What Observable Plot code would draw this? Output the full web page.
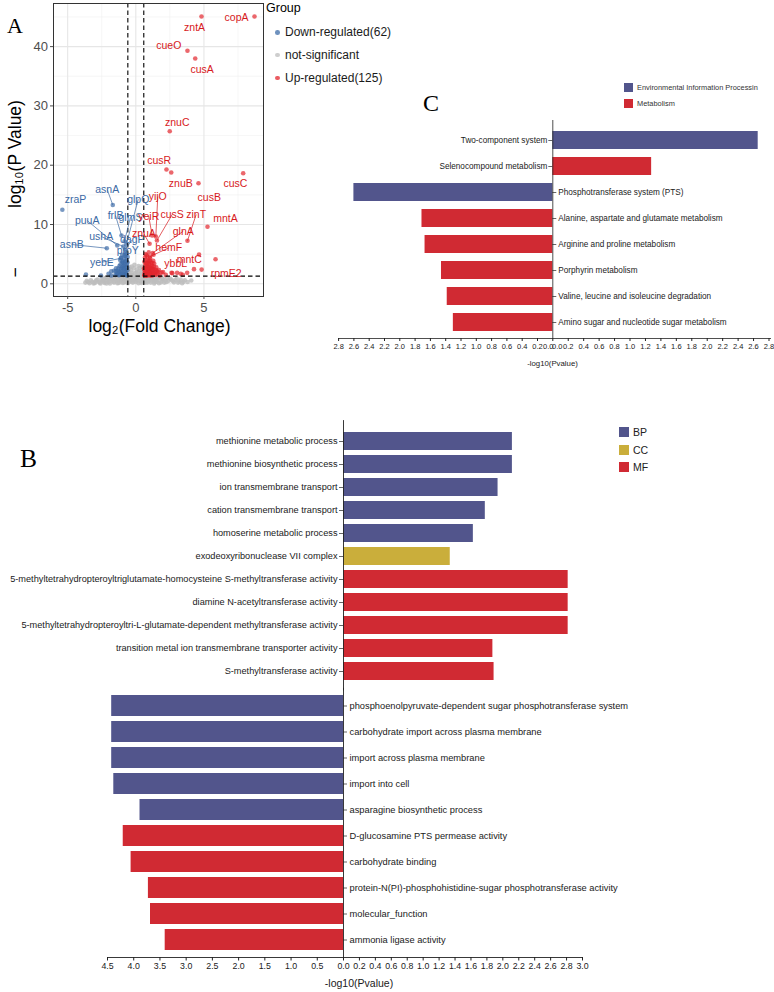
<!DOCTYPE html>
<html><head><meta charset="utf-8">
<script src="https://cdn.jsdelivr.net/npm/d3@7"></script>
<script src="https://cdn.jsdelivr.net/npm/@observablehq/plot@0.6"></script>
<style>
body{margin:0;background:#fff;font-family:"Liberation Sans",Arial,sans-serif;}
#fig{position:relative;width:774px;height:992px;overflow:hidden;background:#fff;}
.abs{position:absolute;line-height:1;white-space:nowrap;}
svg{overflow:visible;}
</style></head><body><div id="fig"></div>
<script>
// ---------------- Panel A : volcano ----------------
const fcCut = 0.585, pCut = 1.301;
const xMajor = [-5, 0, 5], xMinor = [-2.5, 2.5, 7.5];
const yMajor = [0, 10, 20, 30, 40], yMinor = [5, 15, 25, 35, 45];
const groupNames = ["Down-regulated(62)", "not-significant", "Up-regulated(125)"];

const nsPts = [[-3.7,0.2],[-3.6,0.5],[-3.4,0.1],[-3.2,0.35],[-3.0,0.15],[-2.9,0.6],[-2.7,0.3],[-2.6,0.05],[-2.5,0.8],[-2.4,0.4],[-2.3,0.15],[-2.2,1.0],[-2.1,0.6],[-2.0,0.3],[-1.9,0.05],[-1.85,0.9],[-1.8,1.2],[-1.7,0.5],[-1.6,0.2],[-1.55,0.8],[-1.5,1.1],[-1.4,0.4],[-1.35,0.1],[-1.3,0.7],[-1.2,1.0],[-1.15,0.3],[-1.1,0.55],[-1.0,0.9],[-0.95,0.15],[-0.9,1.2],[-0.85,0.4],[-0.8,0.7],[-0.75,1.0],[-0.7,0.25],[-0.65,0.5],[-0.6,1.15],[-0.55,2.1],[-0.5,1.6],[-0.48,0.3],[-0.45,2.8],[-0.4,1.2],[-0.38,0.6],[-0.35,2.3],[-0.3,1.8],[-0.25,0.9],[-0.22,0.2],[-0.2,1.4],[-0.15,2.6],[-0.1,0.5],[-0.05,1.1],[0,0.3],[0.05,1.9],[0.1,0.7],[0.15,1.3],[0.2,0.1],[0.25,2.2],[0.3,0.9],[0.35,1.6],[0.4,0.4],[0.45,2.9],[0.5,1.2],[0.55,2.4],[0.6,0.6],[0.65,1.0],[0.7,0.2],[0.75,0.8],[0.8,1.15],[0.9,0.45],[1.0,0.9],[1.1,0.2],[1.2,1.1],[1.3,0.6],[1.4,0.3],[1.5,1.0],[1.6,0.7],[1.7,0.1],[1.8,1.2],[1.9,0.5],[2.0,0.8],[2.1,0.2],[2.3,1.0],[2.4,0.5],[2.6,0.7],[2.8,0.25],[3.0,0.9],[3.2,0.4],[3.4,0.1],[3.6,0.6],[3.8,0.3],[4.07,0.56],[-0.52,0.9],[-0.28,0.4],[0.12,1.6],[0.42,0.15],[-0.62,0.3],[0.85,0.2],
[-3.5,0.3],[-3.3,0.6],[-3.1,0.05],[-2.95,0.4],[-2.8,0.7],[-2.65,0.2],[-2.45,0.55],[-2.35,0.9],[-2.25,0.35],[-2.15,0.05],[-2.05,1.1],[-1.95,0.45],[-1.75,0.8],[-1.65,0.35],[-1.45,0.65],[-1.25,0.15],[-1.05,0.6],[-0.98,1.2],[-0.88,0.25],[-0.78,0.5],[-0.68,0.85],[-0.58,0.1],[-0.42,0.8],[-0.32,1.5],[-0.18,0.7],[-0.08,1.8],[0.02,0.9],[0.08,2.4],[0.18,0.5],[0.28,1.4],[0.38,2.0],[0.48,0.7],[0.52,1.8],[0.58,0.3],[0.68,0.6],[0.78,0.35],[0.95,0.7],[1.05,1.15],[1.15,0.5],[1.25,0.8],[1.35,0.05],[1.45,0.6],[1.55,0.35],[1.65,1.0],[1.85,0.25],[1.95,0.9],[2.15,0.55],[2.25,0.3],[2.5,0.9],[2.7,0.5],[2.9,0.6],[3.1,0.2],[3.3,0.7],[3.5,0.35],[-0.5,2.3],[-0.3,2.9],[0.3,2.7],[-0.1,3.2],[0.2,3.0]];

const downPts = [[-3.66,1.57],[-2.56,1.4],[-2.0,1.7],[-1.8,1.4],[-1.8,2.1],[-1.6,2.2],[-1.5,1.5],[-1.46,2.14],[-1.4,1.6],[-1.45,2.6],[-1.3,2.2],[-1.25,1.45],[-1.2,3.0],[-1.15,4.0],[-1.1,2.5],[-1.05,1.8],[-1.0,3.6],[-1.0,4.9],[-0.95,2.9],[-0.9,1.5],[-0.88,3.1],[-0.85,4.2],[-0.8,2.2],[-0.78,3.3],[-0.75,4.6],[-0.72,1.7],[-0.7,2.7],[-0.68,3.9],[-0.65,1.4],[-0.62,2.3],[-0.6,4.5],[-0.66,3.2],[-0.9,2.4],[-1.2,2.0],[-0.7,5.0],[-0.95,3.8],
[-1.35,1.8],[-1.28,2.6],[-1.18,1.5],[-1.12,3.3],[-1.08,2.1],[-1.02,2.7],[-0.97,1.7],[-0.92,3.5],[-0.87,2.6],[-0.83,1.6],[-0.76,3.8],[-0.74,2.0],[-0.69,1.5],[-0.64,2.8],[-0.61,3.6],[-0.82,4.8],[-1.08,4.4]];

const upPts = [[0.62,1.5],[0.65,2.3],[0.68,3.1],[0.7,1.8],[0.72,4.0],[0.75,2.7],[0.78,1.4],[0.8,3.5],[0.82,2.1],[0.85,4.6],[0.88,1.7],[0.9,2.9],[0.92,3.8],[0.95,1.5],[0.98,2.4],[1.0,3.2],[1.02,1.9],[1.05,4.3],[1.08,2.7],[1.1,1.4],[1.12,3.6],[1.15,2.2],[1.18,1.6],[1.2,3.0],[1.25,2.5],[1.3,1.8],[1.35,3.4],[1.4,2.0],[1.45,1.5],[1.5,2.8],[1.6,1.7],[1.7,2.3],[1.75,1.4],[1.9,1.9],[0.7,5.0],[0.95,5.3],[1.3,4.9],[2.2,1.5],[0.66,1.9],[0.74,3.4],[0.86,2.5],[0.94,4.0],[1.06,1.6],[1.16,2.8],[1.28,3.9],[1.38,2.4],[1.55,2.1],[0.6,2.6],[0.8,1.6],[1.0,2.1],[2.0,1.97],[2.62,1.85],[2.68,1.8],[3.03,1.85],[3.3,1.7],[3.45,1.52],[3.77,1.85],[5.85,4.15],
[0.63,3.7],[0.67,4.4],[0.71,2.0],[0.76,1.5],[0.79,4.8],[0.83,3.0],[0.87,3.5],[0.91,2.2],[0.93,1.6],[0.97,3.4],[1.01,2.7],[1.04,3.9],[1.09,2.0],[1.13,1.8],[1.19,2.4],[1.22,3.5],[1.27,1.6],[1.32,2.9],[1.42,1.7],[1.48,2.3],[1.65,2.0],[0.64,1.4],[0.69,2.6],[0.73,1.4],[0.84,1.4],[0.89,2.0],[1.03,1.45],[1.23,1.4],[0.77,2.3],[0.99,1.8]];

const upLabGenes = ["copA","zntA","cueO","cusA","znuC","cusR","znuB","cusB","cusC","yijO","cusS","yeiR","zinT","mntA","znuA","glnA","hemF","mntC","ybbL","rpmE2"];
const upLabFC = [8.71,4.82,3.79,4.36,2.49,2.25,2.60,4.60,7.88,1.47,1.55,1.20,3.79,5.26,1.01,1.25,1.05,4.64,4.27,4.83];
const upLabP  = [45.08,45.08,39.29,37.99,25.73,19.27,18.77,16.96,18.65,7.98,7.3,8.15,7.25,9.61,6.75,5.2,4.6,4.94,2.47,2.4];
const upTxtFC = [7.39,4.31,2.42,4.87,3.04,1.72,3.30,5.39,7.31,1.61,2.67,0.95,4.43,6.58,0.59,3.48,2.42,3.92,2.93,6.63];
const upTxtP  = [44.86,43.17,40.19,36.14,27.25,20.79,16.86,14.60,16.86,14.72,11.69,11.35,11.69,10.96,8.43,8.87,6.07,4.05,3.37,1.69];
const upSeg   = [0,0,0,0,0,0,0,0,0,1,1,1,1,0,1,1,1,0,0,0];

const downLabGenes = ["zraP","asnA","glpQ","puuA","frlB","glmS","ushA","asnB","dagP","proY","yebE"];
const downLabFC = [-5.39,-1.69,-0.70,-1.36,-1.05,-0.83,-0.92,-2.13,-0.78,-0.73,-1.10];
const downLabP  = [12.5,13.3,6.6,6.46,8.15,7.18,6.29,6.0,5.8,5.33,4.3];
const downTxtFC = [-4.42,-2.10,0.18,-3.57,-1.49,-0.39,-2.54,-4.70,-0.26,-0.59,-2.49];
const downTxtP  = [14.17,15.90,14.27,10.67,11.52,11.23,7.98,6.63,7.42,5.62,3.64];
const downSeg   = [0,1,1,1,1,1,1,1,1,1,1];

// ---------------- Panel C : KEGG ----------------
const keggTerms = ["Two-component system","Selenocompound metabolism","Phosphotransferase system (PTS)","Alanine, aspartate and glutamate metabolism","Arginine and proline metabolism","Porphyrin metabolism","Valine, leucine and isoleucine degradation","Amino sugar and nucleotide sugar metabolism"];
const keggClass = ["Environmental Information Processin","Metabolism","Environmental Information Processin","Metabolism","Metabolism","Metabolism","Metabolism","Metabolism"];
const keggVal = [2.66,1.28,2.60,1.71,1.67,1.455,1.38,1.30];
const keggSide = [1,1,-1,-1,-1,-1,-1,-1];
const keggClasses = ["Environmental Information Processin","Metabolism"];
const keggLeftTicks = [-2.8,-2.6,-2.4,-2.2,-2.0,-1.8,-1.6,-1.4,-1.2,-1.0,-0.8,-0.6,-0.4,-0.2];
const keggRightTicks = [0.2,0.4,0.6,0.8,1.0,1.2,1.4,1.6,1.8,2.0,2.2,2.4,2.6,2.8];

// ---------------- Panel B : GO ----------------
const goUpTerms = ["methionine metabolic process","methionine biosynthetic process","ion transmembrane transport","cation transmembrane transport","homoserine metabolic process","exodeoxyribonuclease VII complex","5-methyltetrahydropteroyltriglutamate-homocysteine S-methyltransferase activity","diamine N-acetyltransferase activity","5-methyltetrahydropteroyltri-L-glutamate-dependent methyltransferase activity","transition metal ion transmembrane transporter activity","S-methyltransferase activity"];
const goUpClass = ["BP","BP","BP","BP","BP","CC","MF","MF","MF","MF","MF"];
const goUpVal = [2.12,2.12,1.94,1.78,1.63,1.34,2.82,2.82,2.82,1.875,1.89];
const goDownTerms = ["phosphoenolpyruvate-dependent sugar phosphotransferase system","carbohydrate import across plasma membrane","import across plasma membrane","import into cell","asparagine biosynthetic process","D-glucosamine PTS permease activity","carbohydrate binding","protein-N(PI)-phosphohistidine-sugar phosphotransferase activity","molecular_function","ammonia ligase activity"];
const goDownClass = ["BP","BP","BP","BP","BP","MF","MF","MF","MF","MF"];
const goDownVal = [4.42,4.42,4.42,4.38,3.88,4.20,4.05,3.72,3.68,3.40];
const goClasses = ["BP","CC","MF"];
const goLeftTicks = [-4.5,-4.0,-3.5,-3.0,-2.5,-2.0,-1.5,-1.0,-0.5];
const goRightTicks = [0,0.2,0.4,0.6,0.8,1.0,1.2,1.4,1.6,1.8,2.0,2.2,2.4,2.6,2.8,3.0];

// ---------------- styling ----------------
const SANS = "'Liberation Sans', Arial, sans-serif";
const SERIF = "'Liberation Serif','Times New Roman',serif";
const ptRed = "#E3262D", ptBlue = "#3E6CA8", ptGrey = "#BDBDBD";
const txtRed = "#D7191C", txtBlue = "#3B69A4";
const barBlue = "#52558C", barRed = "#D02A33", barGold = "#CAAE3B";
const ink = "#1a1a1a";
const fmtAbs = d => Math.abs(d).toFixed(1);

const fig = document.getElementById("fig");
function place(el, left, top) {
  const w = document.createElement("div");
  w.className = "abs"; w.style.left = left + "px"; w.style.top = top + "px";
  w.appendChild(el); fig.appendChild(w); return w;
}
function html(str, left, top, css) {
  const d = document.createElement("div");
  d.className = "abs"; d.style.left = left + "px"; d.style.top = top + "px";
  d.style.cssText += css || ""; d.textContent = str; fig.appendChild(d); return d;
}

// ---------- Panel A ----------
const toObj = arr => arr.map(([x, y]) => ({x, y}));
const upLab = upLabGenes.map((g, i) => ({gene: g, x: upLabFC[i], y: upLabP[i], tx: upTxtFC[i], ty: upTxtP[i], seg: upSeg[i]}));
const downLab = downLabGenes.map((g, i) => ({gene: g, x: downLabFC[i], y: downLabP[i], tx: downTxtFC[i], ty: downTxtP[i], seg: downSeg[i]}));

const plotA = Plot.plot({
  width: 265, height: 340,
  marginLeft: 53, marginRight: 2, marginTop: 3, marginBottom: 44,
  style: {fontFamily: SANS, background: "none", overflow: "visible"},
  x: {domain: [-6.04, 9.37]},
  y: {domain: [-2.14, 47.27]},
  marks: [
    Plot.ruleX(xMinor, {stroke: "#f0f0f0", strokeWidth: 0.6}),
    Plot.ruleY(yMinor, {stroke: "#f0f0f0", strokeWidth: 0.6}),
    Plot.ruleX(xMajor, {stroke: "#e6e6e6", strokeWidth: 1.1}),
    Plot.ruleY(yMajor, {stroke: "#e6e6e6", strokeWidth: 1.1}),
    Plot.dot(toObj(nsPts), {x: "x", y: "y", r: 2.3, fill: ptGrey, fillOpacity: 0.8}),
    Plot.dot(toObj(downPts), {x: "x", y: "y", r: 2.3, fill: ptBlue, fillOpacity: 0.7}),
    Plot.dot(downLab, {x: "x", y: "y", r: 2.3, fill: ptBlue, fillOpacity: 0.7}),
    Plot.dot(toObj(upPts), {x: "x", y: "y", r: 2.3, fill: ptRed, fillOpacity: 0.7}),
    Plot.dot(upLab, {x: "x", y: "y", r: 2.3, fill: ptRed, fillOpacity: 0.7}),
    Plot.ruleX([-fcCut, fcCut], {stroke: "#000", strokeWidth: 1.1, strokeDasharray: "4.5,3"}),
    Plot.ruleY([pCut], {stroke: "#000", strokeWidth: 1.1, strokeDasharray: "4.5,3"}),
    Plot.link(downLab.filter(d => d.seg), {x1: "x", y1: "y", x2: "tx", y2: "ty", stroke: txtBlue, strokeWidth: 0.7}),
    Plot.link(upLab.filter(d => d.seg), {x1: "x", y1: "y", x2: "tx", y2: "ty", stroke: txtRed, strokeWidth: 0.7}),
    Plot.text(downLab, {x: "tx", y: "ty", text: "gene", fill: txtBlue, fontSize: 10.5, fontFamily: SANS}),
    Plot.text(upLab, {x: "tx", y: "ty", text: "gene", fill: txtRed, fontSize: 10.5, fontFamily: SANS}),
    Plot.frame({stroke: "#333", strokeWidth: 1}),
    Plot.axisX(xMajor, {tickSize: 3, tickPadding: 3, fontSize: 13, color: "#4d4d4d", label: null, tickFormat: d => String(d)}),
    Plot.axisY(yMajor, {tickSize: 3, tickPadding: 2.5, fontSize: 13, color: "#4d4d4d", label: null}),
    Plot.text(["log₂(Fold Change)"], {frameAnchor: "bottom", textAnchor: "middle", lineAnchor: "middle", dy: 30, dx: 1, fontSize: 17.5, fill: "#000", fontFamily: SANS}),
    Plot.text(["log₁₀(P Value)"], {frameAnchor: "left", textAnchor: "middle", lineAnchor: "middle", dx: -38, dy: 4, rotate: -90, fontSize: 17.5, fill: "#000", fontFamily: SANS}),
    Plot.text(["−"], {frameAnchor: "bottom-left", textAnchor: "middle", lineAnchor: "middle", dx: -38, dy: -24, rotate: -90, fontSize: 17.5, fill: "#000", fontFamily: SANS})
  ]
});
place(plotA, 0, 0);

// legend A
html("Group", 266, 1.7, "font-size:12.5px;color:#000;font-family:" + SANS);
const legCols = [ptBlue, ptGrey, ptRed];
const legBase = [36.5, 59.2, 81.9];
groupNames.forEach((g, i) => {
  html("", 275, legBase[i] - 6.3, `width:4.6px;height:4.6px;border-radius:50%;background:${legCols[i]};opacity:0.75`);
  html(g, 285, legBase[i] - 10.2, "font-size:12px;color:#1a1a1a;font-family:" + SANS);
});

// ---------- Panel C ----------
const keggRows = keggTerms.map((t, i) => ({term: t, cls: keggClass[i], sx: keggSide[i] * keggVal[i], side: keggSide[i]}));
const plotC = Plot.plot({
  width: 444, height: 262,
  marginLeft: 8, marginRight: 4, marginTop: 15, marginBottom: 36,
  style: {fontFamily: SANS, background: "none", overflow: "visible"},
  x: {type: "linear", domain: [-2.8, 0, 2.8], range: [8.1, 222.3, 438.5]},
  y: {domain: keggTerms, range: [15, 223], paddingInner: 0.3, paddingOuter: 0.15, axis: null},
  color: {domain: keggClasses, range: [barBlue, barRed]},
  marks: [
    Plot.barX(keggRows, {x1: 0, x2: "sx", y: "term", fill: "cls"}),
    Plot.ruleX([0], {stroke: "#222", strokeWidth: 0.8, insetTop: -7}),
    Plot.ruleY(keggRows.filter(d => d.side > 0), {y: "term", x1: 0, x2: 0, insetLeft: -4, stroke: "#222", strokeWidth: 0.7}),
    Plot.ruleY(keggRows.filter(d => d.side < 0), {y: "term", x1: 0, x2: 0, insetRight: -4, stroke: "#222", strokeWidth: 0.7}),
    Plot.text(keggRows.filter(d => d.side > 0), {x: 0, y: "term", text: "term", textAnchor: "end", dx: -5.5, fontSize: 8.2, fill: ink, fontFamily: SANS}),
    Plot.text(keggRows.filter(d => d.side < 0), {x: 0, y: "term", text: "term", textAnchor: "start", dx: 5.5, fontSize: 8.2, fill: ink, fontFamily: SANS}),
    Plot.frame({anchor: "bottom", stroke: "#222", strokeWidth: 0.8}),
    Plot.axisX([...keggLeftTicks, 0, ...keggRightTicks], {tickSize: 3, tickFormat: () => "", label: null, stroke: "#222"}),
    Plot.axisX(keggLeftTicks, {tickSize: 0, tickPadding: 5, tickFormat: fmtAbs, fontSize: 7.5, fill: ink, label: null}),
    Plot.axisX(keggRightTicks, {tickSize: 0, tickPadding: 5, tickFormat: fmtAbs, fontSize: 7.5, fill: ink, label: null}),
    Plot.axisX([0], {tickSize: 0, tickPadding: 5, tickFormat: fmtAbs, fontSize: 7.5, fill: ink, label: null, dx: -4.5}),
    Plot.axisX([0], {tickSize: 0, tickPadding: 5, tickFormat: fmtAbs, fontSize: 7.5, fill: ink, label: null, dx: 4.5}),
    Plot.text(["-log10(Pvalue)"], {frameAnchor: "bottom", textAnchor: "middle", lineAnchor: "middle", dy: 25, dx: -2, fontSize: 7.8, fill: ink, fontFamily: SANS})
  ]
});
place(plotC, 330, 112);
html("C", 423, 90.9, "font-size:24px;color:#000;font-family:" + SERIF);
const keggLegCols = [barBlue, barRed];
keggClasses.forEach((c, i) => {
  html("", 624, 83 + i * 16, `width:9px;height:9px;background:${keggLegCols[i]}`);
  html(c, 637, 83 + i * 16 + 0.5, "font-size:7.4px;color:#333;font-family:" + SANS);
});

// ---------- Panel B (top) ----------
const goUpRows = goUpTerms.map((t, i) => ({term: t, cls: goUpClass[i], sx: goUpVal[i]}));
const plotB1 = Plot.plot({
  width: 620, height: 275,
  marginLeft: 107, marginRight: 38, marginTop: 10.1, marginBottom: 3.6,
  style: {fontFamily: SANS, background: "none", overflow: "visible"},
  x: {type: "linear", domain: [-4.5, 0, 3], range: [107, 343, 582], axis: null},
  y: {domain: goUpTerms, paddingInner: 0.2, paddingOuter: 0.1, axis: null},
  color: {domain: goClasses, range: [barBlue, barGold, barRed]},
  marks: [
    Plot.barX(goUpRows, {x1: 0, x2: "sx", y: "term", fill: "cls"}),
    Plot.ruleX([0], {stroke: "#222", strokeWidth: 0.9, insetTop: -5, insetBottom: -4}),
    Plot.ruleY(goUpRows, {y: "term", x1: 0, x2: 0, insetLeft: -4, stroke: "#222", strokeWidth: 0.7}),
    Plot.text(goUpRows, {x: 0, y: "term", text: "term", textAnchor: "end", dx: -6, fontSize: 9.2, fill: ink, fontFamily: SANS})
  ]
});
place(plotB1, 0, 415);

// ---------- Panel B (bottom) ----------
const goDownRows = goDownTerms.map((t, i) => ({term: t, cls: goDownClass[i], sx: -goDownVal[i]}));
const plotB2 = Plot.plot({
  width: 650, height: 304,
  marginLeft: 107, marginRight: 68, marginTop: 1.78, marginBottom: 35,
  style: {fontFamily: SANS, background: "none", overflow: "visible"},
  x: {type: "linear", domain: [-4.5, 0, 3], range: [107, 343, 582]},
  y: {domain: goDownTerms, range: [1.78, 266.2], paddingInner: 0.2, paddingOuter: 0.1, axis: null},
  color: {domain: goClasses, range: [barBlue, barGold, barRed]},
  marks: [
    Plot.barX(goDownRows, {x1: 0, x2: "sx", y: "term", fill: "cls"}),
    Plot.ruleX([0], {stroke: "#222", strokeWidth: 0.9, insetTop: -2}),
    Plot.ruleY(goDownRows, {y: "term", x1: 0, x2: 0, insetRight: -4, stroke: "#222", strokeWidth: 0.7}),
    Plot.text(goDownRows, {x: 0, y: "term", text: "term", textAnchor: "start", dx: 6, fontSize: 9.3, fill: ink, fontFamily: SANS}),
    Plot.frame({anchor: "bottom", stroke: "#222", strokeWidth: 0.9}),
    Plot.axisX([...goLeftTicks, ...goRightTicks], {tickSize: 3.5, tickPadding: 1.5, tickFormat: fmtAbs, fontSize: 8.8, fill: ink, stroke: "#222", label: null}),
    Plot.text(["-log10(Pvalue)"], {frameAnchor: "bottom", textAnchor: "middle", lineAnchor: "middle", dy: 26, dx: 14, fontSize: 10.5, fill: ink, fontFamily: SANS})
  ]
});
place(plotB2, 0, 688);

html("B", 20, 445.6, "font-size:25.5px;color:#000;font-family:" + SERIF);
const goLegCols = [barBlue, barGold, barRed];
const goLegTop = [427, 445, 462];
goClasses.forEach((c, i) => {
  html("", 619, goLegTop[i], `width:10px;height:10px;background:${goLegCols[i]}`);
  html(c, 633, goLegTop[i] - 0.5, "font-size:10.5px;color:#222;font-family:" + SANS);
});
html("A", 7, 14.6, "font-size:22px;color:#000;font-family:" + SERIF);
</script></body></html>
